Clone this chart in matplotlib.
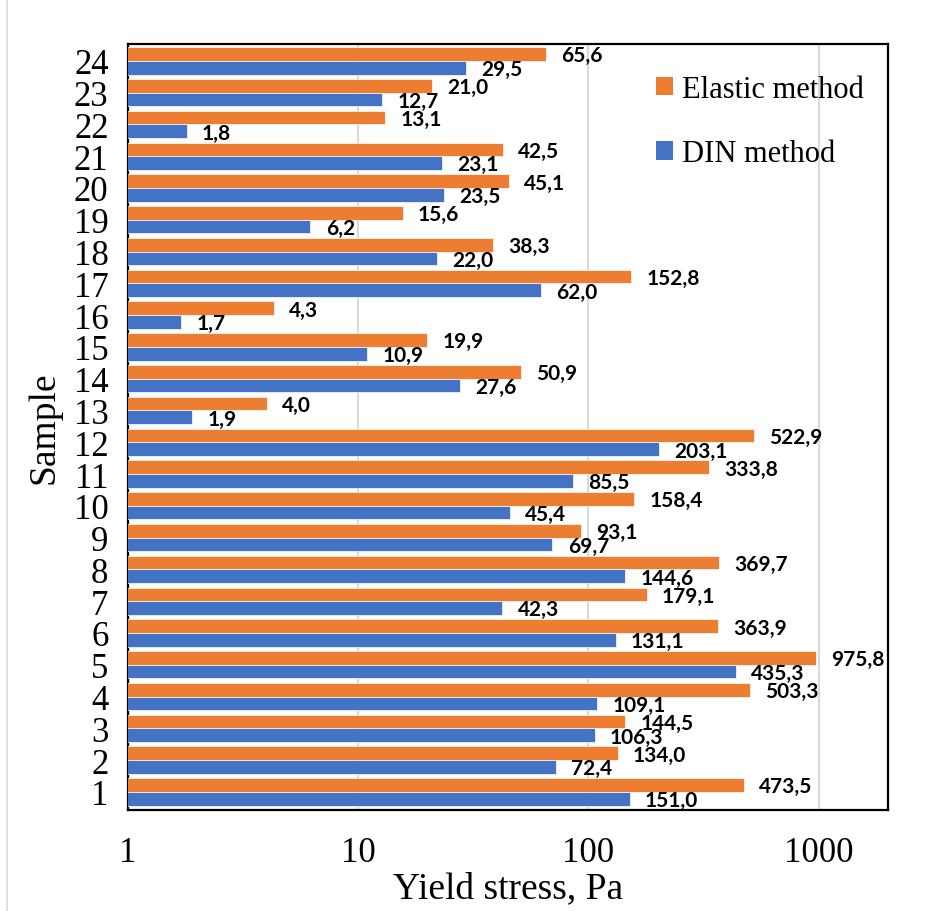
import matplotlib.pyplot as plt
import numpy as np
from matplotlib.patches import Patch
from matplotlib.lines import Line2D

# yield stress per sample (Pa)
samples = list(range(1, 25))
elastic = [473.5, 134.0, 144.5, 503.3, 975.8, 363.9, 179.1, 369.7, 93.1, 158.4, 333.8, 522.9,
           4.0, 50.9, 19.9, 4.3, 152.8, 38.3, 15.6, 45.1, 42.5, 13.1, 21.0, 65.6]
din = [151.0, 72.4, 106.3, 109.1, 435.3, 131.1, 42.3, 144.6, 69.7, 45.4, 85.5, 203.1,
       1.9, 27.6, 10.9, 1.7, 62.0, 22.0, 6.2, 23.5, 23.1, 1.8, 12.7, 29.5]
series_names = ["Elastic method", "DIN method"]

orange = "#ED7D31"
blue = "#4472C4"
serif = "Liberation Serif"

fig = plt.figure(figsize=(9.26, 9.12), dpi=100)
ax = fig.add_axes([128/926, 1-811/912, 760/926, 766/912])

y = np.array(samples)
h = 0.43
ax.barh(y + h/2, elastic, height=h, color=orange, edgecolor="white", linewidth=0.5, zorder=3)
ax.barh(y - h/2, din, height=h, color=blue, edgecolor="white", linewidth=0.5, zorder=3)

# data labels, Excel style with comma decimal
for yy, v in zip(y + h/2, elastic):
    ax.annotate(f"{v:.1f}".replace(".", ","), xy=(v, yy), xytext=(11, -1), textcoords="offset points",
                ha="left", va="center", fontsize=15, fontweight="bold", family="Lato", zorder=4)
for yy, v in zip(y - h/2, din):
    ax.annotate(f"{v:.1f}".replace(".", ","), xy=(v, yy), xytext=(11, -1), textcoords="offset points",
                ha="left", va="center", fontsize=15, fontweight="bold", family="Lato", zorder=4)

ax.set_xscale("log")
ax.set_xlim(1, 2000)
ax.set_ylim(0.43, 24.53)
ax.set_xticks([1, 10, 100, 1000])
ax.set_xticklabels(["1", "10", "100", "1000"])
ax.minorticks_off()
ax.set_yticks(samples)
ax.set_yticklabels([str(s) for s in samples])
ax.tick_params(axis="both", length=0, labelsize=25)
ax.tick_params(axis="x", pad=19)
ax.tick_params(axis="y", pad=14)
for lab in ax.get_xticklabels() + ax.get_yticklabels():
    lab.set_family(serif)

ax.grid(axis="x", color="#d9d9d9", linewidth=1.5, zorder=0)
for sp in ax.spines.values():
    sp.set_linewidth(1.6)
    sp.set_color("black")

ax.set_xlabel("Yield stress, Pa", family=serif, fontsize=27, labelpad=1)
ax.set_ylabel("Sample", family=serif, fontsize=27, labelpad=9)

handles = [Patch(facecolor=orange), Patch(facecolor=blue)]
fig.legend(handles, series_names, loc="upper left", bbox_to_anchor=(656/926, 1-76/912),
           frameon=False, prop={"family": serif, "size": 22}, handlelength=0.55, handleheight=0.55,
           handletextpad=0.3, labelspacing=1.15, borderpad=0, borderaxespad=0)

# faint outer border at the left of the picture
fig.add_artist(Line2D([7/926, 7/926], [0, 1], transform=fig.transFigure, color="#d9d9d9", linewidth=1.2))

fig.savefig("out.png", dpi=100)
